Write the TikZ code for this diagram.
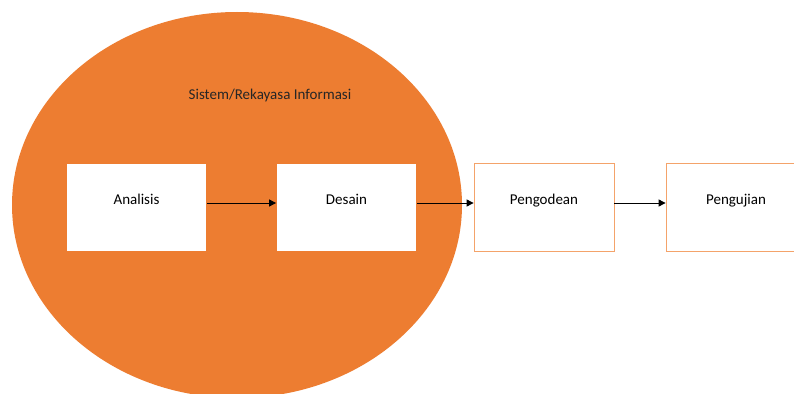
\documentclass[tikz,border=0pt]{standalone}
\usepackage{fontspec}
\setmainfont{Carlito}
\usetikzlibrary{arrows.meta,shapes.geometric}
\definecolor{office}{HTML}{ED7D31}
\definecolor{edge}{HTML}{F4A36A}
\tikzset{
  procbox/.style={rectangle, draw=edge, line width=0.8pt, fill=white,
    minimum width=140pt, minimum height=88pt, inner sep=0pt,
    text height=12pt, text depth=19pt,
    font=\fontsize{15}{18}\selectfont},
  flow/.style={draw=black, line width=0.9pt, -{Triangle[length=7pt,width=7pt]}}
}
\begin{document}
\begin{tikzpicture}[x=1pt,y=-1pt]
\clip (0,0) rectangle (794,393);
\fill[white] (0,0) rectangle (794,393);
\node[ellipse, fill=office, minimum width=450pt, minimum height=386pt, inner sep=0pt] (sys) at (237,205) {};
\node[font=\fontsize{15}{18}\selectfont, text=black!85] (title) at (270,96) {Sistem/Rekayasa Informasi};
\node[procbox, draw=office] (ana) at (136.5,207.5) {Analisis};
\node[procbox, draw=office] (des) at (346.5,207.5) {Desain};
\node[procbox] (kod) at (544,207.5) {Pengodean};
\node[procbox] (uji) at (736,207.5) {Pengujian};
\draw[flow] ([yshift=4.5pt]ana.east) -- ([yshift=4.5pt]des.west);
\draw[flow] ([yshift=4.5pt]des.east) -- ([yshift=4.5pt]kod.west);
\draw[flow] ([yshift=4.5pt]kod.east) -- ([yshift=4.5pt]uji.west);
\end{tikzpicture}
\end{document}
